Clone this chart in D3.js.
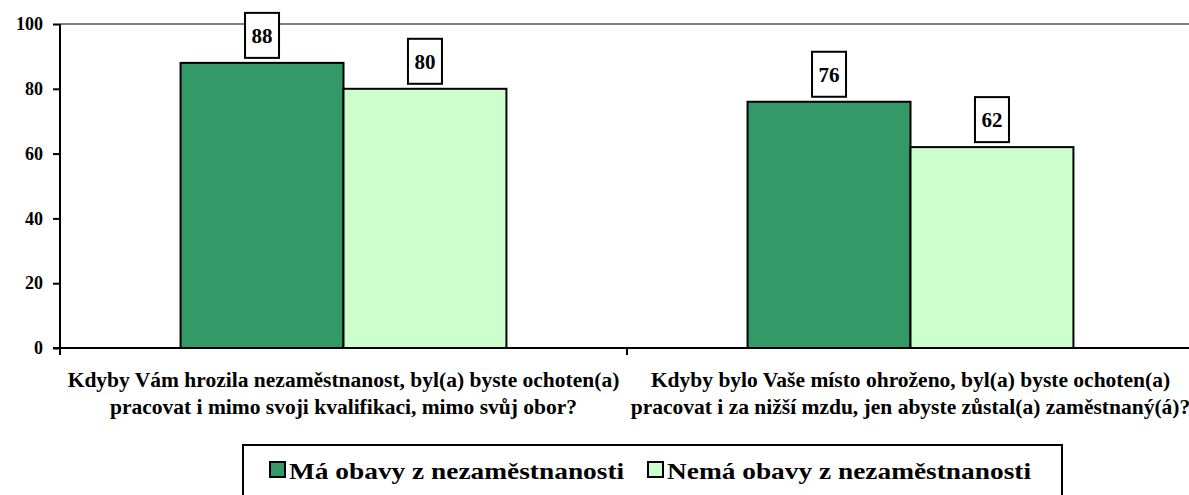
<!DOCTYPE html>
<html lang="cs">
<head>
    <meta charset="UTF-8">
    <title>Obavy z nezaměstnanosti</title>
    <script src="https://d3js.org/d3.v7.min.js"></script>
    <style>
        body { margin: 0; background: #fff; }
        svg { display: block; }
        svg text { font-family: "Liberation Serif", "Times New Roman", Times, "DejaVu Serif", serif !important; font-weight: bold; }
    </style>
</head>
<body>
    <div id="chart"></div>
    <script>
        // Data
        const categories = [
            ["Kdyby Vám hrozila nezaměstnanost, byl(a) byste ochoten(a)", "pracovat i mimo svoji kvalifikaci, mimo svůj obor?"],
            ["Kdyby bylo Vaše místo ohroženo, byl(a) byste ochoten(a)", "pracovat i za nižší mzdu, jen abyste zůstal(a) zaměstnaný(á)?"]
        ];
        const seriesNames = ["Má obavy z nezaměstnanosti", "Nemá obavy z nezaměstnanosti"];
        const seriesColors = ["#339966", "#CCFFCC"];
        const maObavy = [88, 76];
        const nemaObavy = [80, 62];
        const yTicks = [0, 20, 40, 60, 80, 100];

        const width = 1189, height = 495;
        const left = 60, plotTop = 24, plotBottom = 348;
        const bandW = 567;

        const svg = d3.select("#chart").append("svg")
            .attr("width", width).attr("height", height);

        const x = d3.scaleBand()
            .domain(d3.range(categories.length))
            .range([left, left + bandW * categories.length])
            .paddingInner(0).paddingOuter(0);

        const inner = d3.scaleBand()
            .domain(d3.range(seriesNames.length))
            .range([0, bandW])
            .paddingOuter(0.74).paddingInner(0);

        const y = d3.scaleLinear().domain([0, 100]).range([plotBottom, plotTop]);

        // gridline at top
        svg.append("line")
            .attr("x1", left).attr("x2", width)
            .attr("y1", y(100)).attr("y2", y(100))
            .attr("stroke", "#808080").attr("stroke-width", 2);

        // bars
        const values = [maObavy, nemaObavy];
        const groups = svg.selectAll("g.cat")
            .data(categories)
            .join("g")
            .attr("class", "cat")
            .attr("transform", (d, i) => `translate(${x(i)},0)`);

        groups.each(function (c, ci) {
            const g = d3.select(this);
            values.forEach((vals, si) => {
                const v = vals[ci];
                g.append("rect")
                    .attr("x", inner(si)).attr("y", y(v))
                    .attr("width", inner.bandwidth())
                    .attr("height", y(0) - y(v))
                    .attr("fill", seriesColors[si])
                    .attr("stroke", "#000").attr("stroke-width", 2);
            });
        });

        // value labels in boxes
        groups.each(function (c, ci) {
            const g = d3.select(this);
            values.forEach((vals, si) => {
                const v = vals[ci];
                const cx = inner(si) + inner.bandwidth() / 2;
                g.append("rect")
                    .attr("x", cx - 17).attr("y", y(v) - 50)
                    .attr("width", 34).attr("height", 45)
                    .attr("fill", "#fff")
                    .attr("stroke", "#000").attr("stroke-width", 2);
                g.append("text")
                    .attr("x", cx).attr("y", y(v) - 27)
                    .attr("text-anchor", "middle")
                    .attr("dominant-baseline", "central")
                    .attr("font-size", 21)
                    .text(v);
            });
        });

        // y axis
        const yAxis = svg.append("g")
            .attr("transform", `translate(${left},0)`)
            .call(d3.axisLeft(y).tickValues(yTicks).tickSize(7).tickPadding(10));
        yAxis.attr("font-family", null);
        yAxis.select(".domain").attr("stroke", "#000").attr("stroke-width", 2)
            .attr("d", `M0,${plotTop}V${plotBottom + 7}`);
        yAxis.selectAll(".tick line").attr("stroke", "#000").attr("stroke-width", 2);
        yAxis.selectAll(".tick text")
            .attr("font-size", 18).attr("fill", "#000");

        // x axis
        const xAxisG = svg.append("g");
        xAxisG.append("line")
            .attr("x1", left - 7).attr("x2", width)
            .attr("y1", plotBottom).attr("y2", plotBottom)
            .attr("stroke", "#000").attr("stroke-width", 2);
        xAxisG.selectAll("line.sep")
            .data(d3.range(1, categories.length))
            .join("line")
            .attr("class", "sep")
            .attr("x1", d => x(d)).attr("x2", d => x(d))
            .attr("y1", plotBottom).attr("y2", plotBottom + 7)
            .attr("stroke", "#000").attr("stroke-width", 2);

        // category labels
        categories.forEach((lines, ci) => {
            const t = svg.append("text")
                .attr("text-anchor", "middle")
                .attr("font-size", 21.5);
            lines.forEach((ln, li) => {
                t.append("tspan")
                    .attr("x", x(ci) + bandW / 2)
                    .attr("y", 387 + li * 27)
                    .text(ln);
            });
        });

        // legend
        const legend = svg.append("g");
        legend.append("rect")
            .attr("x", 243).attr("y", 445)
            .attr("width", 819).attr("height", 70)
            .attr("fill", "#fff")
            .attr("stroke", "#000").attr("stroke-width", 2);
        const legendX = [270, 648];
        seriesNames.forEach((name, i) => {
            legend.append("rect")
                .attr("x", legendX[i]).attr("y", 462)
                .attr("width", 15).attr("height", 15)
                .attr("fill", seriesColors[i])
                .attr("stroke", "#000").attr("stroke-width", 2);
            const t = legend.append("text")
                .attr("x", legendX[i] + 19).attr("y", 479)
                .attr("font-size", 24)
                .text(name);
            // widen the fallback glyphs to the reference's wider lettering
            const w = t.node().getComputedTextLength();
            t.attr("textLength", w * 1.14).attr("lengthAdjust", "spacingAndGlyphs");
        });
    </script>
</body>
</html>
